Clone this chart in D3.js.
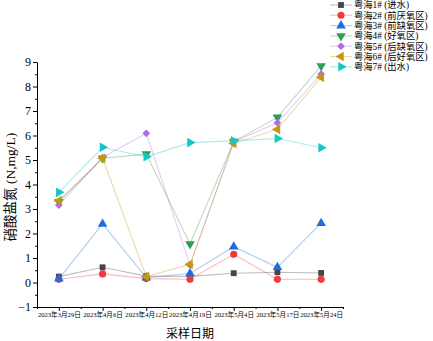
<!DOCTYPE html>
<html>
<head>
<meta charset="utf-8">
<script src="https://cdn.jsdelivr.net/npm/d3@7"></script>
<style>
  body { margin: 0; background: #fff; }
  svg text { font-family: "Liberation Serif", "Noto Sans CJK SC", serif; }
</style>
</head>
<body>
<div id="grafica"></div>
<script>
ancho_total = 433
alto_total  = 341

// fechas de muestreo (eje X)
fechas = ['2023年3月29日', '2023年4月6日', '2023年4月12日', '2023年4月19日',
          '2023年5月4日', '2023年5月17日', '2023年5月24日']

series = ['粤海1# (进水)', '粤海2# (前厌氧区)', '粤海3# (前缺氧区)', '粤海4# (好氧区)',
          '粤海5# (后缺氧区)', '粤海6# (后好氧区)', '粤海7# (出水)']

yh1 = [0.24, 0.62, 0.26, 0.25, 0.38, 0.42, 0.39]
yh2 = [0.13, 0.35, 0.16, 0.13, 1.15, 0.13, 0.13]
yh3 = [0.15, 2.39, 0.20, 0.37, 1.46, 0.62, 2.42]
yh4 = [3.30, 5.07, 5.24, 1.57, 5.75, 6.74, 8.84]
yh5 = [3.16, 5.10, 6.09, 0.71, 5.75, 6.52, 8.51]
yh6 = [3.34, 5.07, 0.24, 0.74, 5.68, 6.25, 8.38]
yh7 = [3.68, 5.52, 5.13, 5.71, 5.78, 5.88, 5.50]

valores = [yh1, yh2, yh3, yh4, yh5, yh6, yh7]

yTicks = [-1, 0, 1, 2, 3, 4, 5, 6, 7, 8, 9]

colores  = ['#454545', '#ee3b3b', '#1c6de0', '#2e9e5b', '#b06fe0', '#c8950c', '#15c6c6']
simbolos = [d3.symbolSquare, d3.symbolCircle, d3.symbolTriangle, d3.symbolTriangle,
            d3.symbolSquare, d3.symbolTriangle, d3.symbolTriangle]
giros    = [0, 0, 0, 180, 45, -90, 90]
tamanos  = [34, 40, 40, 40, 30, 40, 40]

svg = d3.select('#grafica')
        .append('svg')
        .attr('width', ancho_total)
        .attr('height', alto_total)

x = d3.scaleLinear()
      .domain([-0.5, fechas.length - 0.5])
      .range([37, 343])

y = d3.scaleLinear()
      .domain([-1, 9])
      .range([307, 62])

// ejes
xAxisCall = d3.axisBottom(x)
              .tickValues(d3.range(fechas.length))
              .tickSize(4)
              .tickSizeOuter(0)
              .tickFormat((d) => fechas[d])
xGroup = svg.append('g')
            .attr('transform', `translate(0, ${y(-1)})`)
            .call(xAxisCall)
xGroup.selectAll('text')
      .attr('font-size', '6.6px')
      .attr('dy', '0.55em')
      .attr('y', 6)

xMinor = svg.append('g')
            .attr('transform', `translate(0, ${y(-1)})`)
            .call(d3.axisBottom(x)
                    .tickValues(d3.range(-0.5, fechas.length, 1))
                    .tickSize(2)
                    .tickFormat(''))
xMinor.select('.domain').remove()

yAxisCall = d3.axisLeft(y)
              .tickValues(yTicks)
              .tickSize(4)
              .tickSizeOuter(0)
              .tickFormat(d3.format('d'))
yGroup = svg.append('g')
            .attr('transform', `translate(${x(-0.5)}, 0)`)
            .call(yAxisCall)
yGroup.selectAll('text')
      .attr('font-size', '12px')
      .attr('x', -6)

yMinor = svg.append('g')
            .attr('transform', `translate(${x(-0.5)}, 0)`)
            .call(d3.axisLeft(y)
                    .tickValues(d3.range(-0.5, 9, 1))
                    .tickSize(2)
                    .tickFormat(''))
yMinor.select('.domain').remove()

svg.selectAll('.domain, .tick line').attr('stroke', '#000')

// títulos de los ejes
svg.append('text')
   .attr('x', 190)
   .attr('y', 338)
   .attr('text-anchor', 'middle')
   .attr('font-size', '12px')
   .text('采样日期')

svg.append('text')
   .attr('transform', 'translate(15, 187) rotate(-90)')
   .attr('text-anchor', 'middle')
   .attr('font-size', '13.5px')
   .text('硝酸盐氮 (N,mg/L)')

// líneas y puntos
linea = d3.line()
          .x((d, i) => x(i))
          .y((d) => y(d))

valores.forEach((v, k) => {
  svg.append('path')
     .datum(v)
     .attr('d', linea)
     .attr('fill', 'none')
     .attr('stroke', colores[k])
     .attr('stroke-opacity', 0.35)
     .attr('stroke-width', 1.1)
})

valores.forEach((v, k) => {
  svg.append('g')
     .selectAll('path')
     .data(v)
     .enter()
     .append('path')
       .attr('d', d3.symbol().type(simbolos[k]).size(tamanos[k]))
       .attr('transform', (d, i) => `translate(${x(i)}, ${y(d)}) rotate(${giros[k]})`)
       .attr('fill', colores[k])
})

// leyenda
leyenda = svg.append('g')
             .attr('transform', 'translate(330, 5)')

series.forEach((s, i) => {
  ren = leyenda.append('g')
               .attr('transform', `translate(0, ${i * 10.3})`)

  ren.append('line')
     .attr('x1', 0)
     .attr('x2', 22)
     .attr('stroke', colores[i])
     .attr('stroke-opacity', 0.35)
     .attr('stroke-width', 1.1)

  ren.append('path')
     .attr('d', d3.symbol().type(simbolos[i]).size(tamanos[i]))
     .attr('transform', `translate(11, 0) rotate(${giros[i]})`)
     .attr('fill', colores[i])

  ren.append('text')
     .attr('x', 24)
     .attr('y', 3.3)
     .attr('font-size', '9.3px')
     .text(s)
})
</script>
</body>
</html>
